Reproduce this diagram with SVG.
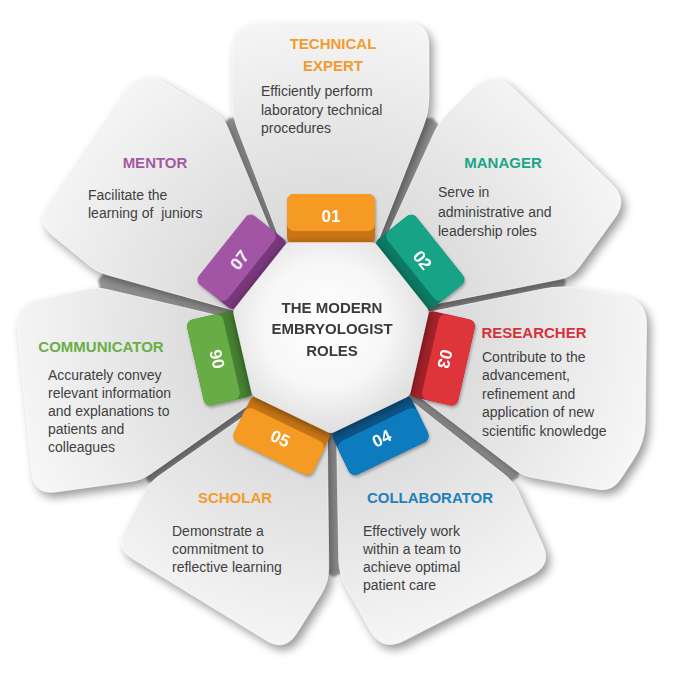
<svg xmlns="http://www.w3.org/2000/svg" xmlns:xlink="http://www.w3.org/1999/xlink" width="685" height="682" viewBox="0 0 685 682">
<defs>
<style>
.petal{fill:url(#pg);stroke:#ffffff;stroke-width:1;stroke-opacity:.6}
.title{font-family:"Liberation Sans",Arial,sans-serif;font-weight:bold;font-size:15px;text-anchor:middle}
.body{font-family:"Liberation Sans",Arial,sans-serif;font-size:14px;fill:#3f3f3f}
.num{font-family:"Liberation Sans",Arial,sans-serif;font-weight:bold;font-size:17px;fill:#ffffff;text-anchor:middle}
.hubt{font-family:"Liberation Sans",Arial,sans-serif;font-weight:bold;font-size:15px;fill:#3a3a3a;text-anchor:middle}
</style>
<radialGradient id="pg" gradientUnits="userSpaceOnUse" cx="331" cy="333" r="330">
<stop offset="0" stop-color="#cdcdcd"/>
<stop offset="0.3" stop-color="#d8d8d8"/>
<stop offset="0.65" stop-color="#e7e7e7"/>
<stop offset="1" stop-color="#f7f7f7"/>
</radialGradient>
<radialGradient id="hubg" gradientUnits="userSpaceOnUse" cx="325" cy="325" r="105">
<stop offset="0" stop-color="#ffffff"/>
<stop offset="0.6" stop-color="#f7f7f7"/>
<stop offset="1" stop-color="#e0e0e0"/>
</radialGradient>
<filter id="blur" x="-20%" y="-20%" width="140%" height="140%"><feGaussianBlur stdDeviation="5"/></filter>
<filter id="soft" x="-10%" y="-10%" width="120%" height="120%"><feGaussianBlur stdDeviation="1"/></filter>
<filter id="tabsh" x="-30%" y="-30%" width="160%" height="160%"><feDropShadow dx="1" dy="2" stdDeviation="1.5" flood-color="#000" flood-opacity="0.3"/></filter>
<filter id="hubsh" x="-20%" y="-20%" width="140%" height="140%"><feDropShadow dx="0" dy="2" stdDeviation="4" flood-color="#000" flood-opacity="0.45"/></filter>
<path id="p1" d="M301,295 L237.4,129 Q232,115 232,100 L232,51 Q232,23 260,23 L407,23 Q429,23 429,45 L429,97 Q429,112 423.5,126 L357,295 Z"/>
<path id="p2" d="M360,295 L434.8,131.1 Q439,122 446.1,114.9 L471.8,89.2 Q493,68 514.5,89 L612.3,184.6 Q628,200 615.1,217.8 L579.1,267.3 Q572,277 560.2,279.3 L385,314 Z"/>
<path id="p3" d="M390,320 L542.4,289 Q562,285 581.7,288.5 L622.4,295.7 Q647,300 646.6,325 L645.3,422 Q645,442 634,458.7 L620.3,479.5 Q612,492 597.2,489.3 L532.8,477.8 Q523,476 515.1,469.9 L400,382 Z"/>
<path id="p4" d="M395,388 L504.6,474.6 Q514,482 519,492.9 L542.8,545 Q552,565 532.4,575 L404.3,640.6 Q382,652 369.8,630.2 L346.3,588.1 Q339,575 338.7,560 L336,400 Z"/>
<path id="p5" d="M327,400 L328.8,567 Q329,582 321,594.7 L296.7,633.4 Q285,652 266.2,640.5 L132.1,558.4 Q115,548 124.4,530.3 L145.3,490.8 Q150,482 158.2,476.3 L290,384 Z"/>
<path id="p6" d="M275,329 L106.7,289.3 Q97,287 87.2,289.1 L36.5,300.3 Q15,305 17.2,326.9 L31.8,473.1 Q34,495 55.8,492 L132.1,481.4 Q142,480 150.2,474.3 L290,376 Z"/>
<path id="p7" d="M298,297 L227.8,127.2 Q224,118 215.4,112.9 L165.8,83.3 Q140,68 123.2,92.9 L47.2,205.4 Q36,222 51.5,234.7 L89.3,265.7 Q97,272 106.6,274.7 L275,322 Z"/>
</defs>
<rect width="685" height="682" fill="#ffffff"/>
<g id="gaps">
<polygon points="229,118 433,118 566,281 518,478 334,577 147,481 98,280" fill="#959595" filter="url(#soft)"/>
</g>
<g id="shadows" fill="#000000" opacity="0.4" filter="url(#blur)" transform="translate(4,5)">
<use xlink:href="#p1"/><use xlink:href="#p2"/><use xlink:href="#p3"/><use xlink:href="#p4"/><use xlink:href="#p5"/><use xlink:href="#p6"/><use xlink:href="#p7"/>
</g>
<g id="node-technical-expert">
<use xlink:href="#p1" class="petal"/>
<text class="title" x="333" y="49" fill="#F29B2E">TECHNICAL</text>
<text class="title" x="333" y="71" fill="#F29B2E">EXPERT</text>
<text class="body" x="261" y="96">Efficiently perform</text>
<text class="body" x="261" y="115">laboratory technical</text>
<text class="body" x="261" y="133">procedures</text>
</g>
<g id="node-manager">
<use xlink:href="#p2" class="petal"/>
<text class="title" x="503" y="168" fill="#1AA58A">MANAGER</text>
<text class="body" x="438" y="197">Serve in</text>
<text class="body" x="438" y="217">administrative and</text>
<text class="body" x="438" y="236">leadership roles</text>
</g>
<g id="node-researcher">
<use xlink:href="#p3" class="petal"/>
<text class="title" x="534" y="338" fill="#D3343A">RESEARCHER</text>
<text class="body" x="482" y="362">Contribute to the</text>
<text class="body" x="482" y="380">advancement,</text>
<text class="body" x="482" y="399">refinement and</text>
<text class="body" x="482" y="417">application of new</text>
<text class="body" x="482" y="436">scientific knowledge</text>
</g>
<g id="node-collaborator">
<use xlink:href="#p4" class="petal"/>
<text class="title" x="430" y="503" fill="#2380B8">COLLABORATOR</text>
<text class="body" x="363" y="536">Effectively work</text>
<text class="body" x="363" y="554">within a team to</text>
<text class="body" x="363" y="572">achieve optimal</text>
<text class="body" x="363" y="590">patient care</text>
</g>
<g id="node-scholar">
<use xlink:href="#p5" class="petal"/>
<text class="title" x="235" y="503" fill="#F29B2E">SCHOLAR</text>
<text class="body" x="172" y="536">Demonstrate a</text>
<text class="body" x="172" y="554">commitment to</text>
<text class="body" x="172" y="572">reflective learning</text>
</g>
<g id="node-communicator">
<use xlink:href="#p6" class="petal"/>
<text class="title" x="101" y="352" fill="#6BAE46">COMMUNICATOR</text>
<text class="body" x="48" y="380">Accurately convey</text>
<text class="body" x="48" y="398">relevant information</text>
<text class="body" x="48" y="416">and explanations to</text>
<text class="body" x="48" y="434">patients and</text>
<text class="body" x="48" y="452">colleagues</text>
</g>
<g id="node-mentor">
<use xlink:href="#p7" class="petal"/>
<text class="title" x="155" y="168" fill="#A25AA5">MENTOR</text>
<text class="body" x="88" y="200">Facilitate the</text>
<text class="body" x="88" y="218" style="white-space:pre">learning of  juniors</text>
</g>
<g id="tabs" filter="url(#tabsh)">
<g id="tab-01" transform="translate(331,333)">
<rect x="-44" y="-139" width="88" height="50" rx="7" fill="#C97412"/>
<rect x="-44" y="-139" width="88" height="37" rx="7" fill="#F59A23"/>
<text class="num" y="-111">01</text>
</g>
<g id="tab-02" transform="translate(331,333) rotate(51.43)">
<rect x="-44" y="-139" width="88" height="50" rx="7" fill="#0C7A63"/>
<rect x="-44" y="-139" width="88" height="37" rx="7" fill="#16A386"/>
<text class="num" y="-111">02</text>
</g>
<g id="tab-03" transform="translate(331,333) rotate(102.86)">
<rect x="-44" y="-139" width="88" height="50" rx="7" fill="#A3222A"/>
<rect x="-44" y="-139" width="88" height="37" rx="7" fill="#DE353B"/>
<text class="num" y="-111">03</text>
</g>
<g id="tab-04" transform="translate(331,333) rotate(154.29)">
<rect x="-44" y="-139" width="88" height="50" rx="7" fill="#09578A"/>
<rect x="-44" y="-139" width="88" height="37" rx="7" fill="#0E7BBE"/>
<text class="num" y="-111" transform="rotate(180 0 -117)">04</text>
</g>
<g id="tab-05" transform="translate(331,333) rotate(205.71)">
<rect x="-44" y="-139" width="88" height="50" rx="7" fill="#C97412"/>
<rect x="-44" y="-139" width="88" height="37" rx="7" fill="#F59A23"/>
<text class="num" y="-111" transform="rotate(180 0 -117)">05</text>
</g>
<g id="tab-06" transform="translate(331,333) rotate(257.14)">
<rect x="-44" y="-139" width="88" height="50" rx="7" fill="#468130"/>
<rect x="-44" y="-139" width="88" height="37" rx="7" fill="#68AC44"/>
<text class="num" y="-111">06</text>
</g>
<g id="tab-07" transform="translate(331,333) rotate(308.57)">
<rect x="-44" y="-139" width="88" height="50" rx="7" fill="#79397B"/>
<rect x="-44" y="-139" width="88" height="37" rx="7" fill="#A355A5"/>
<text class="num" y="-111">07</text>
</g>
</g>
<g id="hub">
<polygon points="331,426 258.3,391 240.3,312.3 290.6,249.2 371.4,249.2 421.7,312.3 403.7,391" fill="url(#hubg)" stroke="url(#hubg)" stroke-width="14" stroke-linejoin="round" filter="url(#hubsh)"/>
<text class="hubt" x="332" y="313">THE MODERN</text>
<text class="hubt" x="332" y="334">EMBRYOLOGIST</text>
<text class="hubt" x="332" y="356">ROLES</text>
</g>
</svg>
